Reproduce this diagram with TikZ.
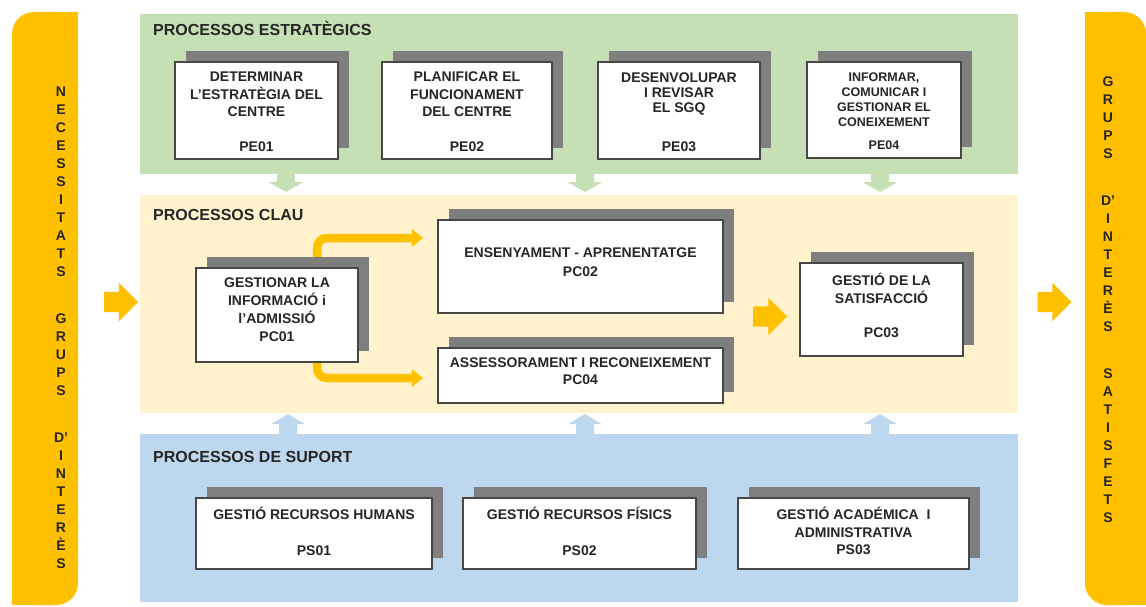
\documentclass[tikz,border=0pt]{standalone}
\usepackage{fontspec}
\setmainfont{Liberation Sans}
\usetikzlibrary{shapes.arrows,shadows,arrows.meta}
\definecolor{gold}{HTML}{FFC000}
\definecolor{pgreen}{HTML}{C5E0B4}
\definecolor{pyellow}{HTML}{FFF2CC}
\definecolor{pblue}{HTML}{BDD7EE}
\definecolor{shade}{HTML}{7F7F7F}
\definecolor{ink}{HTML}{262626}
\pgfdeclarelayer{bg}
\pgfdeclarelayer{conn}
\pgfsetlayers{bg,conn,main}
\begin{document}
\begin{tikzpicture}[x=1pt,y=-1pt,
  procbox/.style={draw=ink!85, line width=1.1pt, fill=white, inner sep=0pt,
    general shadow={fill=shade, shadow xshift=11pt, shadow yshift=11pt}},
  boxtext/.style={text=ink, font=\bfseries\fontsize{14}{17.5}\selectfont, align=center, inner sep=0pt},
  ptitle/.style={text=ink, font=\bfseries\fontsize{16}{19}\selectfont, anchor=base west, inner sep=0pt},
  bartext/.style={text=ink, font=\bfseries\fontsize{14}{18}\selectfont, align=center, inner sep=0pt},
  blockarrow/.style={single arrow, fill=#1, draw=none, inner xsep=0pt, minimum width=0pt,
    text height=0pt, text depth=0pt},
  flow/.style={draw=gold, line width=8.5pt, rounded corners=10pt, -{Triangle[length=11pt,width=17pt]}},
  greenarrow/.pic={\fill[pgreen] (-9,-10) -- (9,-10) -- (9,4) -- (17.5,4) -- (0,14) -- (-17.5,4) -- (-9,4) -- cycle;},
  bluearrow/.pic={\fill[pblue] (-9,12) -- (9,12) -- (9,-4) -- (16.5,-4) -- (0,-14) -- (-16.5,-4) -- (-9,-4) -- cycle;},
]
\useasboundingbox (0,0) rectangle (1146,607);

% panels and background
\begin{pgfonlayer}{bg}
\fill[white] (0,0) rectangle (1146,607);
\fill[pgreen] (140,14) rectangle (1018,174);
\fill[pyellow] (140,195) rectangle (1018,413);
\fill[pblue] (140,434) rectangle (1018,602);
\foreach \xx in {286,585,880}{
  \pic at (\xx,178) {greenarrow};
}
\foreach \xx in {288,585,880}{
  \pic at (\xx,428) {bluearrow};
}
\end{pgfonlayer}

% side bars
\fill[gold, rounded corners=22pt] (12,12) rectangle (78,605);
\fill[gold] (45,12) rectangle (78,45);
\fill[gold] (12,570) rectangle (45,605);
\fill[gold, rounded corners=22pt] (1085,12) rectangle (1146,605);
\fill[gold] (1085,12) rectangle (1115,45);
\fill[gold] (1115,570) rectangle (1146,605);

\node[bartext] (lefttext) at (61,328) {N\\E\\C\\E\\S\\S\\I\\T\\A\\T\\S\\[29pt]G\\R\\U\\P\\S\\[29pt]D'\\I\\N\\T\\E\\R\\È\\S};
\node[bartext] (righttext) at (1108,300) {G\\R\\U\\P\\S\\[29pt]D'\\I\\N\\T\\E\\R\\È\\S\\[29pt]S\\A\\T\\I\\S\\F\\E\\T\\S};

\node[ptitle] (t1) at (153,36) {PROCESSOS ESTRATÈGICS};
\node[ptitle] (t2) at (153,220) {PROCESSOS CLAU};
\node[ptitle] (t3) at (153,462) {PROCESSOS DE SUPORT};

% orange block arrows
\node[blockarrow=gold, inner ysep=10pt, single arrow head extend=9pt, single arrow tip angle=90,
      minimum height=34pt] (inarrow) at (116,302) {};
\node[blockarrow=gold, inner ysep=10pt, single arrow head extend=8.5pt, single arrow tip angle=90,
      minimum height=34pt] (midarrow) at (765,316.5) {};
\node[blockarrow=gold, inner ysep=10pt, single arrow head extend=9pt, single arrow tip angle=90,
      minimum height=34pt] (outarrow) at (1049.5,302) {};

% strategic processes
\node[procbox, minimum width=163pt, minimum height=97pt] (pe1) at (256.5,110.5) {};
\node[boxtext] (pe1t) at (256.5,112) {DETERMINAR\\L'ESTRATÈGIA DEL\\CENTRE\\[17.5pt]PE01};
\node[procbox, minimum width=170pt, minimum height=97pt] (pe2) at (467,110.5) {};
\node[boxtext] (pe2t) at (467,112) {PLANIFICAR EL\\FUNCIONAMENT\\DEL CENTRE\\[17.5pt]PE02};
\node[procbox, minimum width=162pt, minimum height=97pt] (pe3) at (679,110.5) {};
\node[boxtext, font=\bfseries\fontsize{14}{15}\selectfont] (pe3t) at (679,112.5) {DESENVOLUPAR\\I REVISAR\\EL SGQ\\[24pt]PE03};
\node[procbox, minimum width=154pt, minimum height=96pt] (pe4) at (884,110) {};
\node[boxtext, font=\bfseries\fontsize{12.5}{15}\selectfont] (pe4t) at (884,111) {INFORMAR,\\COMUNICAR I\\GESTIONAR EL\\CONEIXEMENT\\[8pt]PE04};

% key processes
\node[procbox, minimum width=162pt, minimum height=94pt] (pc1) at (277,315) {};
\node[boxtext, font=\bfseries\fontsize{14}{18}\selectfont] (pc1t) at (277,310) {GESTIONAR LA\\INFORMACIÓ i\\l’ADMISSIÓ\\PC01};
\node[procbox, minimum width=285pt, minimum height=93pt] (pc2) at (580.5,266.5) {};
\node[boxtext, font=\bfseries\fontsize{14}{19}\selectfont] (pc2t) at (580.5,262.5) {ENSENYAMENT - APRENENTATGE\\PC02};
\node[procbox, minimum width=285pt, minimum height=55pt] (pc4) at (580.5,375.5) {};
\node[boxtext, font=\bfseries\fontsize{14}{17}\selectfont] (pc4t) at (580.5,371.5) {ASSESSORAMENT I RECONEIXEMENT\\PC04};
\node[procbox, minimum width=163pt, minimum height=93pt] (pc3) at (881.5,309.5) {};
\node[boxtext, font=\bfseries\fontsize{14}{18}\selectfont] (pc3t) at (881.5,305.5) {GESTIÓ DE LA\\SATISFACCIÓ\\[16pt]PC03};

\coordinate (fa1) at (423,238);
\coordinate (fa2) at (423,378);
\begin{pgfonlayer}{conn}
\draw[flow] ([xshift=40pt]pc1.north) |- (fa1);
\draw[flow] ([xshift=40pt]pc1.south) |- (fa2);
\end{pgfonlayer}

% support processes
\node[procbox, minimum width=236pt, minimum height=71pt] (ps1) at (314,533.5) {};
\node[boxtext, font=\bfseries\fontsize{14}{18}\selectfont] (ps1t) at (314,531.5) {GESTIÓ RECURSOS HUMANS\\[18pt]PS01};
\node[procbox, minimum width=233pt, minimum height=71pt] (ps2) at (579.5,533.5) {};
\node[boxtext, font=\bfseries\fontsize{14}{18}\selectfont] (ps2t) at (579.5,531.5) {GESTIÓ RECURSOS FÍSICS\\[18pt]PS02};
\node[procbox, minimum width=231pt, minimum height=71pt] (ps3) at (853.5,533.5) {};
\node[boxtext] (ps3t) at (853.5,531) {GESTIÓ ACADÉMICA\ \ I\\ADMINISTRATIVA\\PS03};
\end{tikzpicture}
\end{document}
